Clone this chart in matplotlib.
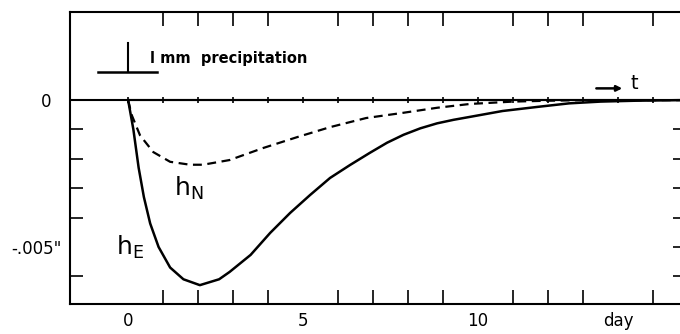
import numpy as np
import matplotlib
matplotlib.use("Agg")
import matplotlib.pyplot as plt

# response of the two tilt components to 1 mm of rain at day 0
days_E = [0, 0.15, 0.3, 0.45, 0.63, 0.87, 1.2, 1.58, 2.05, 2.6, 2.9, 3.5, 4.06,
          4.63, 5.2, 5.77, 6.34, 6.9, 7.4, 7.87, 8.35, 8.83, 9.3, 9.77, 10.7,
          11.7, 12.6, 13.5, 14.5, 15.8]
h_E = [0, -0.0010, -0.0023, -0.0033, -0.0042, -0.0050, -0.0057, -0.0061, -0.0063,
       -0.0061, -0.00585, -0.00527, -0.00452, -0.00384, -0.00323, -0.00265, -0.00221,
       -0.0018, -0.00145, -0.00118, -0.00096, -0.00079, -0.00067, -0.00057,
       -0.00037, -0.00023, -0.00011, -0.00005, -0.00002, 0]

days_N = [0, 0.1, 0.34, 0.72, 1.2, 1.77, 2.14, 2.9, 3.86, 4.83, 5.77, 6.8, 7.87,
          8.83, 9.77, 11.0, 12.0, 13.0, 14.0, 15.8]
h_N = [0, -0.0005, -0.0012, -0.00177, -0.0021, -0.0022, -0.0022, -0.00204,
       -0.00163, -0.00126, -0.00092, -0.00061, -0.00043, -0.00026, -0.00013,
       -0.00005, -0.00002, 0, 0, 0]

day_ticks = np.arange(0, 16)
xlabels = ["0", "5", "10", "day"]
xlabel_pos = [0, 5, 10, 14]
ytick_pos = [-0.001, -0.002, -0.003, -0.004, -0.005, -0.006]

fig = plt.figure(figsize=(6.8, 3.34), dpi=100)
ax = fig.add_axes([0.103, 0.09, 0.897, 0.874])

ax.set_xlim(-1.66, 15.77)
ax.set_ylim(-0.00694, 0.003)

# zero line with little crosses at each day
ax.plot(day_ticks, np.zeros(len(day_ticks)), color="black", lw=1.5,
        marker="|", markersize=5, markeredgewidth=1.2)
ax.axhline(0, color="black", lw=1.5)

ax.plot(days_E, h_E, color="black", lw=1.8)
ax.plot(days_N, h_N, color="black", lw=1.6, dashes=(4, 2.5))

for s in ["left", "bottom", "top"]:
    ax.spines[s].set_linewidth(1.5)
ax.spines["right"].set_visible(False)

ax.set_xticks(xlabel_pos, xlabels)
ax.set_xticks(day_ticks, minor=True)
ax.tick_params(axis="x", which="both", direction="in", top=True, length=10,
               width=1.2, labelsize=12, pad=6)
ax.tick_params(axis="x", which="major", bottom=False, top=False)
ax.set_yticks(ytick_pos, minor=True)
ax.set_yticks([0, -0.005], ["0\u2007", '-.005"'])
ax.tick_params(axis="y", which="major", length=0, labelsize=12, pad=6)
ax.tick_params(axis="y", which="minor", direction="in", left=True, right=False,
               length=9, width=1.2)

# short ticks on the right edge
ax_r = ax.secondary_yaxis("right")
ax_r.set_yticks(ytick_pos, [""] * len(ytick_pos))
ax_r.tick_params(direction="in", length=5, width=1.2)
ax_r.spines["right"].set_visible(False)

# precipitation scale bar
ax.plot([-0.86, 0.83], [0.00095, 0.00095], color="black", lw=1.8)
ax.plot([0, 0], [0.00095, 0.00194], color="black", lw=1.5)
ax.text(0.63, 0.00143, "l mm  precipitation", fontsize=10.5, fontweight="bold",
        va="center", ha="left")

ax.text(1.3, -0.0030, r"h$_{\mathregular{N}}$", fontsize=18, va="center")
ax.text(-0.35, -0.0050, r"h$_{\mathregular{E}}$", fontsize=18, va="center")

ax.annotate("", xy=(14.2, 0.0004), xytext=(13.3, 0.0004),
            arrowprops=dict(arrowstyle="-|>", color="black", lw=1.8,
                            mutation_scale=8))
ax.text(14.35, 0.00055, "t", fontsize=14, va="center", ha="left")

fig.savefig("out.png", dpi=100)
